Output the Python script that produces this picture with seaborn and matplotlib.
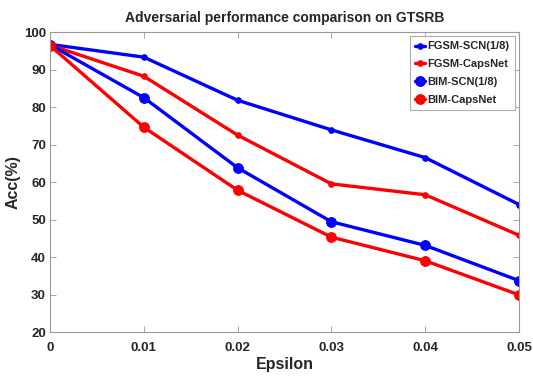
import matplotlib
matplotlib.use("Agg")
import matplotlib.pyplot as plt
import seaborn as sns
import pandas as pd

epsilon = [0, 0.01, 0.02, 0.03, 0.04, 0.05]
fgsm_scn = [96.7, 93.3, 81.8, 73.9, 66.5, 54.0]
fgsm_caps = [96.5, 88.2, 72.5, 59.5, 56.6, 45.8]
bim_scn = [96.6, 82.5, 63.8, 49.4, 43.1, 33.7]
bim_caps = [96.4, 74.6, 57.8, 45.3, 39.0, 29.9]
series_names = ["FGSM-SCN(1/8)", "FGSM-CapsNet", "BIM-SCN(1/8)", "BIM-CapsNet"]
x_ticks = [0, 0.01, 0.02, 0.03, 0.04, 0.05]
x_tick_labels = ["0", "0.01", "0.02", "0.03", "0.04", "0.05"]
y_ticks = [20, 30, 40, 50, 60, 70, 80, 90, 100]

sns.set_style("white")
plt.rcParams["font.family"] = ["Liberation Sans", "DejaVu Sans"]

fig = plt.figure(figsize=(5.33, 3.81), dpi=100)
ax = fig.add_axes([0.0938, 0.1286, 0.8799, 0.7874])

values = [fgsm_scn, fgsm_caps, bim_scn, bim_caps]
colors = ["#0000ff", "#ff0000", "#0000ff", "#ff0000"]
msizes = [4, 4, 7, 7]
for name, vals, c, ms in zip(series_names, values, colors, msizes):
    df = pd.DataFrame({"Epsilon": epsilon, "Acc": vals})
    sns.lineplot(data=df, x="Epsilon", y="Acc", ax=ax, color=c, marker="o",
                 markersize=ms, markeredgecolor=c, linewidth=2.4, label=name)

ax.set_xlim(0, 0.05)
ax.set_ylim(20, 100)
ax.set_xticks(x_ticks)
ax.set_xticklabels(x_tick_labels)
ax.set_yticks(y_ticks)
for lab in ax.get_xticklabels() + ax.get_yticklabels():
    lab.set_fontweight("bold")
    lab.set_fontsize(9.5)
    lab.set_color("#262626")
ax.tick_params(axis="x", pad=7)
ax.tick_params(axis="y", pad=3)
ax.tick_params(direction="in", length=4, width=0.6, color="#999999",
               top=True, right=True, bottom=True, left=True)
for sp in ax.spines.values():
    sp.set_color("#999999")
    sp.set_linewidth(0.8)

ax.set_xlabel("Epsilon", fontsize=11.5, fontweight="bold", labelpad=2)
ax.set_ylabel("Acc(%)", fontsize=11.5, fontweight="bold", labelpad=2)
ax.set_title("Adversarial performance comparison on GTSRB", fontsize=10,
             fontweight="bold", pad=7)

leg = ax.legend(loc="upper right", fontsize=8, frameon=True, fancybox=False,
                handlelength=0.9, handletextpad=0.2, borderpad=0.45,
                labelspacing=0.7, borderaxespad=0.4)
leg.get_frame().set_edgecolor("#999999")
leg.get_frame().set_linewidth(0.8)
for t in leg.get_texts():
    t.set_fontweight("bold")

fig.savefig("out.png", dpi=100)
